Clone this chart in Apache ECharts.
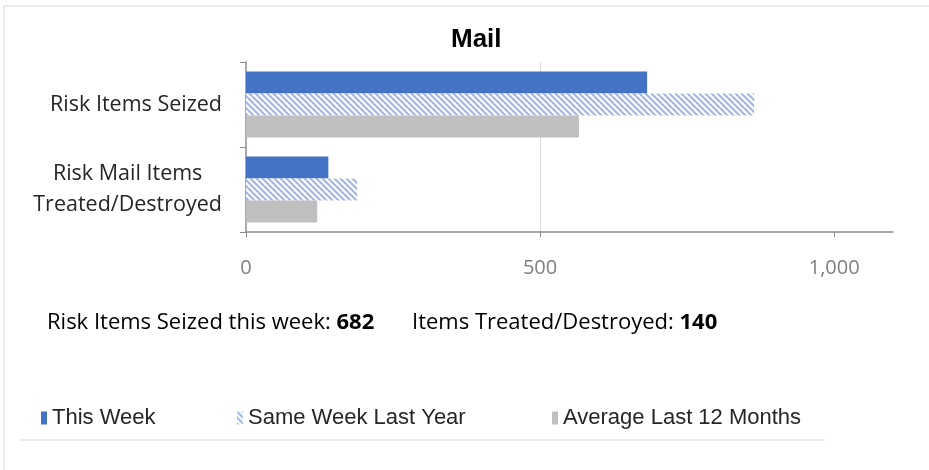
<!DOCTYPE html>
<html>
<head>
<meta charset="utf-8">
<script src="https://cdn.jsdelivr.net/npm/echarts@6/dist/echarts.min.js"></script>
<style>html,body{margin:0;padding:0;background:#fff;}#c{width:929px;height:470px;}</style>
</head>
<body>
<div id="c"></div>
<script>
const categories = ['Risk Items Seized', 'Risk Mail Items\nTreated/Destroyed'];
const seriesNames = ['This Week', 'Same Week Last Year', 'Average Last 12 Months'];
const thisWeek = [682, 140];
const sameWeekLastYear = [864, 189];
const averageLast12 = [566, 121];
const xTicks = [0, 500, 1000];
const seizedThisWeek = 682;
const treatedThisWeek = 140;

function hatch() {
  const c = document.createElement('canvas');
  c.width = 6; c.height = 6;
  const g = c.getContext('2d');
  g.fillStyle = '#ffffff'; g.fillRect(0, 0, 6, 6);
  g.strokeStyle = '#a3b8e6'; g.lineWidth = 2.2;
  g.beginPath();
  g.moveTo(-1, -1); g.lineTo(7, 7);
  g.moveTo(-4, 2); g.lineTo(4, 10);
  g.moveTo(2, -4); g.lineTo(10, 4);
  g.stroke();
  return c;
}

const chart = echarts.init(document.getElementById('c'), null, {renderer: 'canvas'});
const labelFont = 'Open Sans';
const labelSize = 21.5;
const sumSize = 22;
const legendBase = {
  top: 402, itemWidth: 6, itemHeight: 13, icon: 'rect', itemGap: 0,
  textStyle: {fontFamily: 'Liberation Sans', fontSize: 22, color: '#262626', padding: [0, 0, 0, 0]}
};
chart.setOption({
  animation: false,
  title: {
    text: 'Mail', left: 446, top: 22,
    textStyle: {fontFamily: 'Liberation Sans', fontWeight: 'bold', fontSize: 26, color: '#000'}
  },
  grid: {left: 246, right: 36, top: 62, bottom: 238},
  legend: [
    Object.assign({left: 36, data: [seriesNames[0]]}, legendBase),
    Object.assign({left: 232, data: [seriesNames[1]]}, legendBase),
    Object.assign({left: 547, data: [seriesNames[2]]}, legendBase)
  ],
  xAxis: {
    type: 'value', min: 0, max: 1100,
    axisLine: {show: true, lineStyle: {color: '#8c8c8c', width: 1.5}},
    axisTick: {show: true, length: 5, customValues: xTicks, lineStyle: {color: '#8c8c8c'}},
    axisLabel: {
      customValues: xTicks, margin: 26,
      fontFamily: labelFont, fontSize: 20, color: '#7f7f7f',
      formatter: v => v.toLocaleString('en-US')
    },
    splitLine: {show: true, showMinLine: false, showMaxLine: false, lineStyle: {color: '#d9d9d9', width: 1}}
  },
  yAxis: {
    type: 'category', data: categories, inverse: true,
    axisLine: {show: true, lineStyle: {color: '#8c8c8c', width: 1.5}},
    axisTick: {show: true, length: 6, lineStyle: {color: '#8c8c8c'}},
    axisLabel: {
      margin: 24, align: 'right',
      formatter: v => v.split('\n').map(s => '{c|' + s + '}').join('\n'),
      rich: {c: {fontFamily: labelFont, fontSize: labelSize, color: '#262626', lineHeight: 31, align: 'center'}}
    }
  },
  series: [
    {name: seriesNames[0], type: 'bar', data: thisWeek, barWidth: 22, barGap: '0%', itemStyle: {color: '#4472c4'}},
    {name: seriesNames[1], type: 'bar', data: sameWeekLastYear, barWidth: 22, barGap: '0%', itemStyle: {color: {image: hatch(), repeat: 'repeat'}}},
    {name: seriesNames[2], type: 'bar', data: averageLast12, barWidth: 22, barGap: '0%', itemStyle: {color: '#bfbfbf'}}
  ],
  graphic: [
    {type: 'rect', silent: true, z: -1, shape: {x: 4, y: 6, width: 940, height: 480}, style: {fill: 'none', stroke: '#e3e3e3', lineWidth: 1.5}},
    {type: 'line', silent: true, shape: {x1: 20, y1: 440, x2: 825, y2: 440}, style: {stroke: '#ececec', lineWidth: 2}},
    {type: 'text', left: 47, top: 312, style: {
      text: '{n|Risk Items Seized this week: }{b|' + seizedThisWeek + '}',
      rich: {n: {fontFamily: labelFont, fontSize: sumSize, fill: '#000'}, b: {fontFamily: labelFont, fontSize: sumSize, fontWeight: 'bold', fill: '#000'}}
    }},
    {type: 'text', left: 412, top: 312, style: {
      text: '{n|Items Treated/Destroyed: }{b|' + treatedThisWeek + '}',
      rich: {n: {fontFamily: labelFont, fontSize: sumSize, fill: '#000'}, b: {fontFamily: labelFont, fontSize: sumSize, fontWeight: 'bold', fill: '#000'}}
    }}
  ]
});
</script>
</body>
</html>
